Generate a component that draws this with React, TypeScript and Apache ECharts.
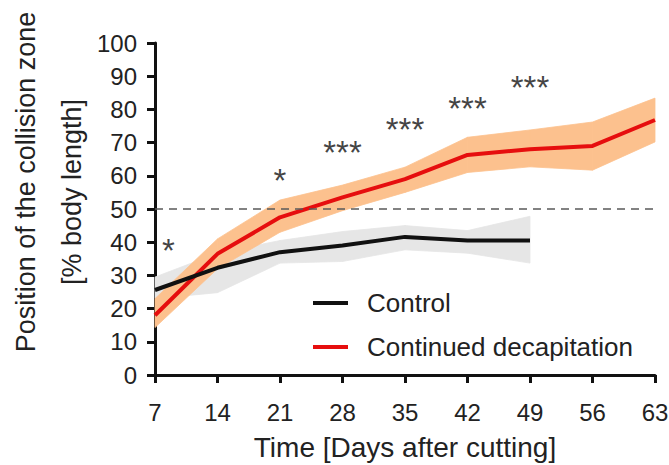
import React, { useEffect, useRef } from "react";
import * as echarts from "echarts";

const FONT = "'Liberation Sans', Arial, Helvetica, sans-serif";

const days = [7, 14, 21, 28, 35, 42, 49, 56, 63];
const decapMean = [18, 36.5, 47.5, 53.5, 59, 66.3, 68, 69, 76.8];
const decapUpper = [23, 41, 52.7, 57.2, 62.6, 71.6, 73.8, 76.2, 83.4];
const decapLower = [14.3, 32, 43, 49.5, 55, 61, 62.7, 61.7, 70.2];

const ctrlDays = [7, 14, 21, 28, 35, 42, 49];
const ctrlMean = [25.6, 32.3, 37, 39, 41.6, 40.5, 40.5];
const ctrlUpper = [29.5, 36.7, 40.5, 43.2, 45, 43.5, 47.8];
const ctrlLower = [23, 24.8, 33.7, 34.2, 37.7, 36.7, 33.7];

const starDays = [8.5, 21, 28, 35, 42, 49];
const starValues = [39.2, 60.5, 68.7, 75.9, 82.2, 88.3];
const starLabels = ["*", "*", "***", "***", "***", "***"];

const xTicks = { min: 7, max: 63, interval: 7 };
const yTicks = { min: 0, max: 100, interval: 10 };

const pairs = (xs: number[], ys: number[]) => xs.map((x, i) => [x, ys[i]]);
const triples = (xs: number[], lo: number[], hi: number[]) => xs.map((x, i) => [x, lo[i], hi[i]]);

function bandSeries(name: string, data: number[][], color: string, z: number) {
  const n = data.length;
  return {
    name,
    type: "custom",
    data,
    silent: true,
    z,
    encode: { x: 0, y: [1, 2] },
    renderItem: (params: any, api: any) => {
      const i = params.dataIndexInside;
      if (i >= n - 1) return null;
      const p1 = api.coord([api.value(0, i), api.value(2, i)]);
      const p2 = api.coord([api.value(0, i + 1), api.value(2, i + 1)]);
      const p3 = api.coord([api.value(0, i + 1), api.value(1, i + 1)]);
      const p4 = api.coord([api.value(0, i), api.value(1, i)]);
      return {
        type: "polygon",
        shape: { points: [p1, p2, p3, p4] },
        style: { fill: color, stroke: color, lineWidth: 0.8 },
      };
    },
  };
}

export default function App() {
  const ref = useRef<HTMLDivElement>(null);
  useEffect(() => {
    if (!ref.current) return;
    const chart = echarts.init(ref.current, null, { renderer: "svg" });
    const axisCommon = {
      axisLine: { show: true, onZero: false, lineStyle: { color: "#111", width: 3 } },
      axisTick: { show: true, length: 8, lineStyle: { color: "#111", width: 3 } },
      splitLine: { show: false },
    };
    chart.setOption({
      animation: false,
      backgroundColor: "#fff",
      grid: { left: 155, right: 14, top: 43, bottom: 90, outerBoundsMode: "none", containLabel: false },
      xAxis: {
        type: "value",
        ...xTicks,
        ...axisCommon,
        axisLabel: { fontSize: 24, color: "#222", fontFamily: FONT, margin: 25 },
        name: "Time [Days after cutting]",
        nameLocation: "middle",
        nameGap: 58,
        nameTextStyle: { fontSize: 28, color: "#222", fontFamily: FONT },
      },
      yAxis: {
        type: "value",
        ...yTicks,
        ...axisCommon,
        axisLabel: { fontSize: 24, color: "#222", fontFamily: FONT, margin: 18 },
      },
      legend: {
        data: ["Control", "Continued decapitation"],
        orient: "vertical",
        left: 313,
        top: 290,
        padding: 0,
        icon: "rect",
        itemWidth: 35,
        itemHeight: 4,
        itemGap: 18,
        textStyle: { fontSize: 26, color: "#222", fontFamily: FONT, padding: [0, 0, 0, 14] },
      },
      graphic: [
        {
          type: "text",
          x: 26,
          y: 182,
          rotation: Math.PI / 2,
          style: {
            text: "Position of the collision zone",
            font: `27px ${FONT}`,
            fill: "#222",
            textAlign: "center",
            textVerticalAlign: "middle",
          },
        },
        {
          type: "text",
          x: 72,
          y: 192,
          rotation: Math.PI / 2,
          style: {
            text: "[% body length]",
            font: `27px ${FONT}`,
            fill: "#222",
            textAlign: "center",
            textVerticalAlign: "middle",
          },
        },
      ],
      series: [
        bandSeries("ctrlBand", triples(ctrlDays, ctrlLower, ctrlUpper), "#E6E6E6", 1),
        bandSeries("decapBand", triples(days, decapLower, decapUpper), "#FCC18E", 2),
        {
          name: "Continued decapitation",
          type: "line",
          data: pairs(days, decapMean),
          symbol: "none",
          color: "#E60E0E",
          lineStyle: { color: "#E60E0E", width: 4 },
          z: 3,
          markLine: {
            silent: true,
            symbol: "none",
            label: { show: false },
            lineStyle: { color: "#5a5a5a", width: 1.5, type: [8, 6] },
            data: [{ yAxis: 50 }],
          },
        },
        {
          name: "Control",
          type: "line",
          data: pairs(ctrlDays, ctrlMean),
          symbol: "none",
          color: "#111",
          lineStyle: { color: "#111", width: 4 },
          z: 4,
        },
        {
          name: "stars",
          type: "scatter",
          data: pairs(starDays, starValues),
          symbolSize: 0,
          silent: true,
          label: {
            show: true,
            position: "inside",
            formatter: (p: any) => starLabels[p.dataIndex],
            fontSize: 33,
            color: "#111",
            fontFamily: FONT,
            offset: [0, 6],
          },
          z: 5,
        },
      ],
    });
    return () => chart.dispose();
  }, []);
  return <div ref={ref} style={{ width: 669, height: 465, position: "absolute", left: 0, top: 0 }} />;
}
